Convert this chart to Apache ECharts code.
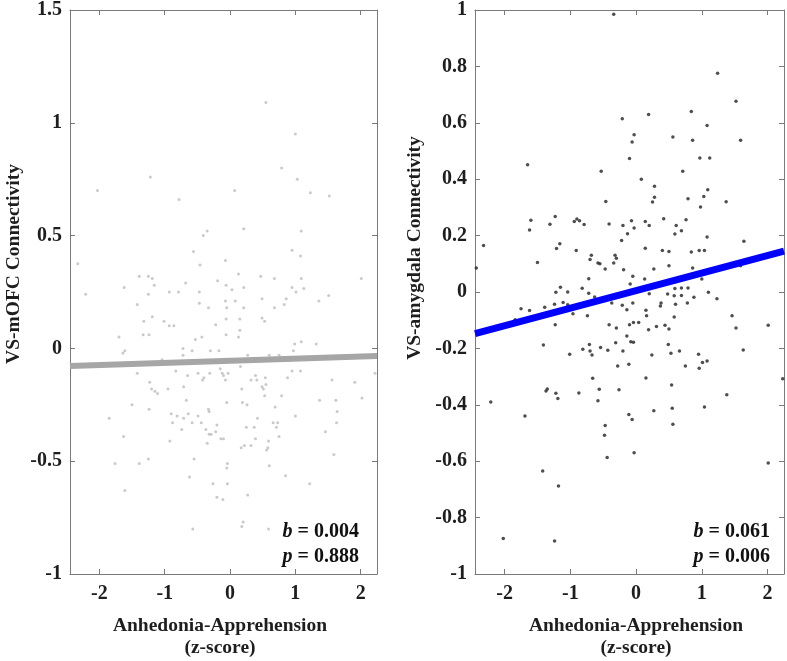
<!DOCTYPE html>
<html>
<head>
<meta charset="utf-8">
<script src="https://cdn.jsdelivr.net/npm/echarts@6/dist/echarts.min.js"></script>
<style>
  html, body { margin: 0; padding: 0; background: #fff; }
  #chart { width: 787px; height: 661px; }
</style>
</head>
<body>
<div id="chart"></div>
<script>
// x tick labels (shared by both panels)
const xTicks = [-2, -1, 0, 1, 2]

// left panel: VS-mOFC connectivity vs anhedonia-apprehension
const mofcPoints = [
  [0.55, 1.09], [1.00, 0.95], [-1.22, 0.76], [0.79, 0.80], [1.03, 0.75], [-2.03, 0.70], [0.07, 0.70],
  [-0.78, 0.66], [1.23, 0.69], [1.52, 0.675], [0.21, 0.53], [-0.35, 0.52], [-0.41, 0.50], [1.09, 0.52],
  [-0.56, 0.43], [0.95, 0.435], [-0.07, 0.39], [1.08, 0.41], [-2.33, 0.375], [-0.46, 0.37], [-1.39, 0.32],
  [-1.25, 0.32], [-1.19, 0.31], [0.13, 0.33], [0.47, 0.32], [0.68, 0.31], [1.09, 0.31], [2.01, 0.31],
  [-0.68, 0.29], [-0.19, 0.30], [-1.16, 0.28], [-0.06, 0.28], [-1.62, 0.27], [0.03, 0.26], [0.21, 0.27],
  [0.95, 0.27], [1.01, 0.25], [1.13, 0.265], [-2.21, 0.24], [-1.25, 0.24], [-0.93, 0.25], [-0.79, 0.25],
  [-0.47, 0.25], [0.49, 0.22], [0.86, 0.22], [1.51, 0.235], [-1.42, 0.195], [-0.47, 0.20], [-0.07, 0.21],
  [0.08, 0.21], [-0.33, 0.18], [-0.05, 0.18], [0.21, 0.18], [0.68, 0.18], [0.83, 0.195], [1.36, 0.21],
  [-1.32, 0.12], [-1.19, 0.14], [-1.01, 0.12], [-0.93, 0.10], [-0.86, 0.10], [-0.22, 0.105], [-0.06, 0.13],
  [0.15, 0.13], [0.49, 0.135], [0.53, 0.12], [0.15, 0.08],
  [-1.70, 0.05], [-1.33, 0.06], [-1.24, 0.06], [-0.53, 0.04], [-0.43, 0.05], [-0.06, 0.06], [0.13, 0.05],
  [1.09, 0.03], [0.99, 0.02], [1.32, 0.02], [-1.61, -0.01], [-1.64, -0.02], [-0.72, 0.0], [-0.72, -0.03],
  [-0.58, -0.01], [-0.30, -0.01], [-0.17, -0.01], [0.27, -0.03], [0.60, -0.03], [0.75, -0.03], [0.97, -0.01],
  [-1.04, -0.05], [0.16, -0.08], [-0.15, -0.09], [-1.42, -0.11], [-0.83, -0.10], [-0.65, -0.12], [-0.49, -0.11],
  [-0.40, -0.13], [-0.42, -0.14], [-0.31, -0.11], [-0.12, -0.11], [-0.10, -0.12], [-0.03, -0.11], [-0.07, -0.14],
  [0.32, -0.14], [0.39, -0.12], [0.41, -0.14], [0.54, -0.13], [0.95, -0.10], [1.08, -0.10], [0.88, -0.13],
  [1.56, -0.14], [1.91, -0.15], [2.22, -0.11], [-1.23, -0.15], [-1.20, -0.18], [-1.15, -0.19], [-1.11, -0.20],
  [-0.95, -0.18], [-0.71, -0.17], [0.18, -0.18], [0.49, -0.17], [0.51, -0.18], [0.55, -0.16], [-0.05, -0.24],
  [-0.67, -0.23], [0.19, -0.24], [0.26, -0.25], [0.53, -0.21], [0.79, -0.21], [1.37, -0.23], [1.62, -0.23],
  [2.02, -0.22], [-1.50, -0.25], [-1.24, -0.27], [-0.33, -0.27], [-0.32, -0.28], [0.69, -0.26], [1.64, -0.28],
  [1.00, -0.30], [-1.85, -0.31], [-0.90, -0.29], [-0.88, -0.33], [-0.81, -0.30], [-0.71, -0.31], [-0.64, -0.29],
  [-0.58, -0.33], [-0.49, -0.30], [-0.44, -0.33], [-0.74, -0.36], [-0.20, -0.34], [0.25, -0.35], [0.37, -0.35],
  [0.42, -0.31], [0.66, -0.33], [0.73, -0.33], [0.71, -0.35], [1.63, -0.33], [-0.37, -0.36], [-0.32, -0.38],
  [-0.29, -0.38], [-0.22, -0.37], [1.46, -0.37], [-1.63, -0.39], [-0.92, -0.41], [-0.35, -0.42], [-0.14, -0.40],
  [-0.10, -0.40], [0.17, -0.44], [0.22, -0.43], [0.32, -0.43], [0.39, -0.40], [0.56, -0.45], [0.58, -0.44],
  [0.59, -0.41], [0.75, -0.39], [1.59, -0.47], [-1.25, -0.49], [-1.39, -0.51], [-1.76, -0.51], [-0.55, -0.49],
  [-0.04, -0.51], [-0.05, -0.53], [0.60, -0.52], [-0.62, -0.57], [0.85, -0.565], [-1.61, -0.63], [-0.26, -0.60],
  [-0.04, -0.60], [1.22, -0.60], [-0.20, -0.66], [-0.11, -0.67], [0.27, -0.65], [-0.57, -0.80], [0.20, -0.77],
  [0.18, -0.79], [0.59, -0.80]
]
const mofcFit = [[-2.45, -0.078], [2.25, -0.034]]

// right panel: VS-amygdala connectivity vs anhedonia-apprehension
const amygPoints = [
  [-0.34, 0.985], [1.24, 0.776], [1.52, 0.676], [0.84, 0.64], [-0.21, 0.614], [0.19, 0.629], [1.08, 0.59],
  [-0.03, 0.558], [-0.06, 0.532], [0.56, 0.55], [0.86, 0.538], [1.59, 0.538], [-0.10, 0.473], [0.97, 0.475],
  [1.12, 0.475], [-1.65, 0.451], [-0.53, 0.428], [0.71, 0.428], [0.08, 0.40], [0.28, 0.375], [0.28, 0.336],
  [0.25, 0.319], [-0.46, 0.321], [1.09, 0.363], [1.03, 0.339], [0.98, 0.301], [0.79, 0.331], [1.37, 0.32],
  [-1.60, 0.254], [-1.62, 0.22], [-1.23, 0.268], [-1.31, 0.24], [-0.94, 0.25], [-0.90, 0.259], [-0.86, 0.253],
  [-0.79, 0.239], [-0.41, 0.241], [-0.20, 0.236], [-0.07, 0.253], [-0.03, 0.227], [0.14, 0.25], [0.20, 0.236],
  [0.42, 0.26], [0.61, 0.236], [0.59, 0.206], [0.69, 0.217], [0.76, 0.256], [-0.13, 0.207], [-0.22, 0.183],
  [1.08, 0.195], [1.64, 0.18], [-2.32, 0.165], [-1.21, 0.154], [-1.16, 0.171], [-0.91, 0.147], [0.14, 0.155],
  [0.40, 0.147], [0.50, 0.144], [0.84, 0.142], [0.96, 0.147], [1.04, 0.147], [-0.68, 0.13], [-0.32, 0.13],
  [-0.30, 0.12], [-0.70, 0.115], [-0.58, 0.103], [-0.55, 0.10], [-0.34, 0.103], [-1.50, 0.105], [-0.47, 0.082],
  [-0.19, 0.079], [0.27, 0.082], [0.50, 0.093], [0.86, 0.085], [1.31, 0.082], [1.59, 0.093], [-2.43, 0.085],
  [-0.05, 0.056], [-0.09, 0.028], [0.13, 0.046], [-0.72, 0.047], [1.00, 0.046], [-1.15, 0.017], [-0.82, 0.013],
  [-1.22, -0.001], [-1.04, 0.0], [-0.72, -0.004], [-0.63, -0.018], [0.20, -0.006], [0.59, 0.012], [0.69, 0.014],
  [0.79, 0.014], [0.69, -0.012], [0.88, -0.019], [1.10, -0.001], [1.23, -0.024], [0.48, -0.007], [0.58, -0.013],
  [0.60, -0.043], [0.78, -0.039], [0.38, -0.039], [0.37, -0.05], [-0.21, -0.047], [-0.37, -0.039], [-1.11, -0.037],
  [-1.04, -0.045], [-1.24, -0.043], [-1.39, -0.054], [-0.96, -0.077], [-0.74, -0.084], [-1.75, -0.059], [-1.62, -0.066],
  [-1.84, -0.098], [-1.23, -0.116], [-0.14, -0.063], [-0.05, -0.039], [0.15, -0.065], [0.16, -0.084], [0.58, -0.089],
  [1.46, -0.084], [-0.41, -0.116], [-0.30, -0.128], [-0.10, -0.116], [-0.04, -0.108], [0.04, -0.108], [0.19, -0.134],
  [0.31, -0.122], [0.44, -0.118], [0.50, -0.131], [1.52, -0.128], [2.01, -0.118],
  [-1.41, -0.188], [-1.01, -0.221], [-0.81, -0.203], [-0.71, -0.186], [-0.70, -0.209], [-0.67, -0.223], [-0.54, -0.197],
  [-0.43, -0.207], [-0.31, -0.18], [-0.28, -0.262], [-0.20, -0.209], [-0.14, -0.156], [-0.11, -0.256], [-0.08, -0.176],
  [-0.04, -0.178], [0.24, -0.223], [0.49, -0.186], [0.53, -0.217], [0.66, -0.209], [0.75, -0.262], [0.95, -0.221],
  [0.96, -0.27], [1.01, -0.25], [1.08, -0.245], [1.63, -0.206], [-2.21, -0.39], [-1.69, -0.44], [-1.37, -0.351],
  [-1.35, -0.344], [-1.22, -0.359], [-1.19, -0.378], [-0.87, -0.358], [-0.66, -0.306], [-0.56, -0.345], [-0.58, -0.386],
  [-0.26, -0.347], [0.15, -0.305], [0.27, -0.421], [0.54, -0.33], [0.55, -0.412], [0.56, -0.469], [-0.11, -0.434],
  [-0.06, -0.452], [1.04, -0.408], [1.38, -0.364], [2.23, -0.308], [-0.47, -0.473], [-0.48, -0.508], [-0.44, -0.587],
  [-0.03, -0.57], [2.01, -0.606], [-1.42, -0.635], [-1.18, -0.688], [-2.02, -0.874], [-1.24, -0.883]
]
const amygFit = [[-2.45, -0.148], [2.25, 0.145]]

const serif = '"Liberation Serif", "DejaVu Serif", serif'
const frame = '#7a7a7a'
const labelColor = '#1e1e1e'

function xAxes(gridIndex) {
  const base = {
    gridIndex, type: 'value', min: -2.45, max: 2.25,
    axisLine: { onZero: false, lineStyle: { color: frame, width: 1 } },
    axisTick: { inside: true, length: 5, customValues: xTicks, lineStyle: { color: frame } },
    splitLine: { show: false },
  }
  return [
    { ...base, position: 'bottom',
      axisLabel: { customValues: xTicks, margin: 10, fontFamily: serif, fontWeight: 'bold', fontSize: 20, color: labelColor } },
    { ...base, position: 'top', axisLabel: { show: false } },
  ]
}

function yAxes(gridIndex, min, max, interval) {
  const base = {
    gridIndex, type: 'value', min, max, interval,
    axisLine: { show: true, onZero: false, lineStyle: { color: frame, width: 1 } },
    axisTick: { show: true, inside: true, length: 5, lineStyle: { color: frame } },
    splitLine: { show: false },
  }
  return [
    { ...base, position: 'left',
      axisLabel: { margin: 8, fontFamily: serif, fontWeight: 'bold', fontSize: 20, color: labelColor } },
    { ...base, position: 'right', axisLabel: { show: false } },
  ]
}

function titleText(x, y, text, rotation) {
  return {
    type: 'text', x, y, rotation: rotation || 0,
    style: { text, align: 'center', verticalAlign: 'middle', fill: labelColor,
      font: 'bold 19.5px ' + serif, lineHeight: 22 },
  }
}

function statText(right, y, letter, value) {
  return {
    type: 'text', x: right, y,
    style: {
      text: '{i|' + letter + '}{n| = ' + value + '}',
      align: 'right', verticalAlign: 'middle',
      rich: {
        i: { font: 'italic bold 20px ' + serif, fill: '#111' },
        n: { font: 'bold 20px ' + serif, fill: '#111' },
      },
    },
  }
}

const chart = echarts.init(document.getElementById('chart'))
chart.setOption({
  backgroundColor: '#fff',
  animation: false,
  grid: [
    { left: 70, top: 7, width: 307, height: 567 },
    { left: 475, top: 8, width: 309, height: 566 },
  ],
  xAxis: [...xAxes(0), ...xAxes(1)],
  yAxis: [...yAxes(0, -1, 1.5, 0.5), ...yAxes(1, -1, 1, 0.2)],
  series: [
    { type: 'scatter', xAxisIndex: 0, yAxisIndex: 0, data: mofcPoints, symbolSize: 3,
      itemStyle: { color: '#bdbdbd' }, silent: true },
    { type: 'line', xAxisIndex: 0, yAxisIndex: 0, data: mofcFit, showSymbol: false, silent: true,
      lineStyle: { color: '#a6a6a6', width: 6 } },
    { type: 'scatter', xAxisIndex: 2, yAxisIndex: 2, data: amygPoints, symbolSize: 3.5,
      itemStyle: { color: '#222' }, silent: true },
    { type: 'line', xAxisIndex: 2, yAxisIndex: 2, data: amygFit, showSymbol: false, silent: true,
      lineStyle: { color: '#0000ff', width: 7 } },
  ],
  graphic: [
    titleText(14, 264, 'VS-mOFC Connectivity', -Math.PI / 2 + Math.PI),
    titleText(415, 248, 'VS-amygdala Connectivity', Math.PI / 2),
    titleText(220, 637, 'Anhedonia-Apprehension\n(z-score)'),
    titleText(636, 637, 'Anhedonia-Apprehension\n(z-score)'),
    statText(359, 532, 'b', '0.004'),
    statText(359, 557, 'p', '0.888'),
    statText(770, 532, 'b', '0.061'),
    statText(770, 557, 'p', '0.006'),
  ],
})
</script>
</body>
</html>
